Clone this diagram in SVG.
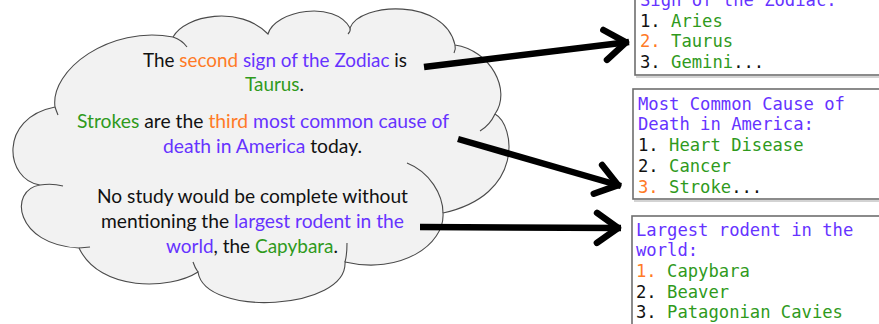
<svg xmlns="http://www.w3.org/2000/svg" width="879" height="324" viewBox="0 0 879 324">
<style>
.cloudfill{fill:#f2f2f2;stroke:#4a4a4a;stroke-width:1.1}
.tail{fill:none;stroke:#4a4a4a;stroke-width:1.1}
.ct{font-family:Lato,"Open Sans","Liberation Sans",sans-serif;font-size:19px;fill:#111}
.mono{font-family:"DejaVu Sans Mono","Liberation Mono",monospace;font-size:17.2px;fill:#111}
.o{fill:#ff7a26}
.p{fill:#6633ff}
.g{fill:#2f9a1c}
.k{fill:#111}
.box{fill:#ffffff;stroke:#6e6e6e;stroke-width:1.6}
.shadow{fill:none;stroke:#c4c4c4;stroke-width:1.5}
.arrow{fill:none;stroke:#000;stroke-width:6.5;marker-end:url(#chev)}
</style>
<defs>
<marker id="chev" markerUnits="userSpaceOnUse" viewBox="-32 -20 36 40" markerWidth="36" markerHeight="40" refX="0" refY="0" orient="auto" overflow="visible">
<path d="M-24,-15 L-3,0 L-24,15" fill="none" stroke="#000" stroke-width="6.5" stroke-linecap="round" stroke-linejoin="round"/>
</marker>
</defs>

<g id="cloud">
<path class="cloudfill" d="M55,107 C50,70 110,25 173,37 C185,15 240,5 268,34 C275,10 335,0 350,28 C360,2 445,-2 455,45 C490,50 512,90 495,114 C515,125 525,195 443,213 C445,245 400,275 345,262 C348,310 205,318 198,272 C170,290 100,292 79,248 C15,245 8,190 40,185 C5,180 -2,118 55,107 Z"/>
<path class="tail" d="M55,107 Q56,110 58,115"/>
<path class="tail" d="M173,37 Q182,40 187,47"/>
<path class="tail" d="M350,28 Q351,31 348,34"/>
<path class="tail" d="M455,45 Q456,49 454,53"/>
<path class="tail" d="M495,114 Q490,125 480,131"/>
<path class="tail" d="M407,163 C430,172 443,195 443,213"/>
<path class="tail" d="M347,243 Q347,255 345,262"/>
<path class="tail" d="M198,272 Q195,268 193,262"/>
<path class="tail" d="M79,248 L90,247"/>
<path class="tail" d="M40,185 Q52,183 63,186"/>
<text class="ct" x="143" y="67" textLength="264" lengthAdjust="spacingAndGlyphs">The <tspan class="o">second</tspan><tspan class="p"> sign of the Zodiac</tspan> is</text>
<text class="ct" x="245" y="91" textLength="59" lengthAdjust="spacingAndGlyphs"><tspan class="g">Taurus</tspan>.</text>
<text class="ct" x="77" y="128" textLength="372" lengthAdjust="spacingAndGlyphs"><tspan class="g">Strokes</tspan> are the <tspan class="o">third</tspan><tspan class="p"> most common cause of</tspan></text>
<text class="ct" x="163" y="153" textLength="199" lengthAdjust="spacingAndGlyphs"><tspan class="p">death in America</tspan> today.</text>
<text class="ct" x="97" y="203" textLength="311" lengthAdjust="spacingAndGlyphs">No study would be complete without</text>
<text class="ct" x="101" y="228" textLength="303" lengthAdjust="spacingAndGlyphs">mentioning the <tspan class="p">largest rodent in the</tspan></text>
<text class="ct" x="166" y="253" textLength="172" lengthAdjust="spacingAndGlyphs"><tspan class="p">world</tspan>, the <tspan class="g">Capybara</tspan>.</text>
</g>

<g id="box-zodiac">
<path class="shadow" d="M636,77 H879"/>
<rect class="box" x="635" y="-5" width="250" height="80"/>
<text class="mono p" x="640" y="6">Sign of the Zodiac:</text>
<text class="mono" x="640" y="27">1. <tspan class="g">Aries</tspan></text>
<text class="mono" x="640" y="47"><tspan class="o">2. </tspan><tspan class="g">Taurus</tspan></text>
<text class="mono" x="640" y="68">3. <tspan class="g">Gemini</tspan>...</text>
</g>

<g id="box-death">
<path class="shadow" d="M634,201 H879"/>
<rect class="box" x="633" y="89" width="250" height="110"/>
<text class="mono p" x="638" y="110">Most Common Cause of</text>
<text class="mono p" x="638" y="130">Death in America:</text>
<text class="mono" x="638" y="151">1. <tspan class="g">Heart Disease</tspan></text>
<text class="mono" x="638" y="172">2. <tspan class="g">Cancer</tspan></text>
<text class="mono" x="638" y="193"><tspan class="o">3. </tspan><tspan class="g">Stroke</tspan>...</text>
</g>

<g id="box-rodent">
<rect class="box" x="632" y="216" width="250" height="120"/>
<text class="mono p" x="636" y="236">Largest rodent in the</text>
<text class="mono p" x="636" y="256">world:</text>
<text class="mono" x="636" y="277"><tspan class="o">1. </tspan><tspan class="g">Capybara</tspan></text>
<text class="mono" x="636" y="298">2. <tspan class="g">Beaver</tspan></text>
<text class="mono" x="636" y="318">3. <tspan class="g">Patagonian Cavies</tspan></text>
</g>

<g id="connectors">
<path class="arrow" d="M424,67 L629,42"/>
<path class="arrow" d="M458,139 L621,186"/>
<path class="arrow" d="M420,227 L621,228"/>
</g>
</svg>
